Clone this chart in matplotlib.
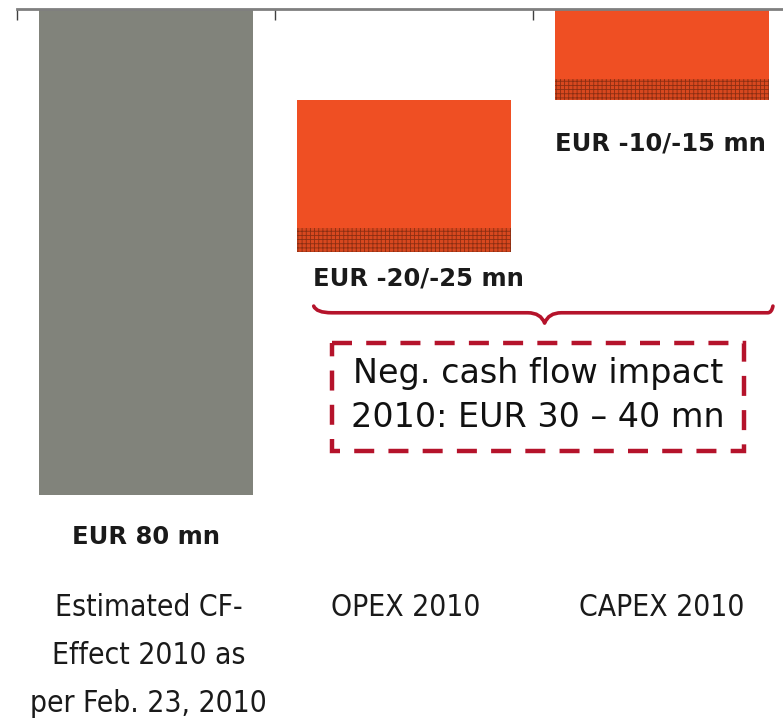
import matplotlib
matplotlib.use('Agg')
import matplotlib.pyplot as plt
from matplotlib.path import Path
from matplotlib.patches import PathPatch, Rectangle

# Datos del gráfico (escala invertida: las barras cuelgan del eje superior)
categorias = ['Estimated CF-\nEffect 2010 as\nper Feb. 23, 2010', 'OPEX 2010', 'CAPEX 2010']
base = [0, 15, 0]
parte_solida = [80, 21, 11.5]
parte_rango = [0, 4, 3.5]
etiquetas_valor = ['EUR 80 mn', 'EUR -20/-25 mn', 'EUR -10/-15 mn']
texto_caja = 'Neg. cash flow impact\n2010: EUR 30 – 40 mn'

gris = '#81837B'
naranja = '#EF4F23'
naranja_osc = '#D8481F'
rojo = '#B5132B'

plt.rcParams['hatch.linewidth'] = 0.6

fig = plt.figure(figsize=(7.83, 7.18), dpi=100)
ax = fig.add_axes([17 / 783, 0, 774 / 783, 709 / 718])

x = list(range(len(categorias)))
colores = [gris, naranja, naranja]
ax.bar(x, parte_solida, bottom=base, width=0.83, color=colores, linewidth=0)
inicio_rango = [b + s for b, s in zip(base, parte_solida)]
ax.bar(x, parte_rango, bottom=inicio_rango, width=0.83, color=naranja_osc,
       hatch='++++', edgecolor='#8B2E12', linewidth=0)

ax.set_xlim(-0.5, 2.5)
ax.set_ylim(116.7, 0)

# Eje superior con marcas en los límites de categoría
for lado in ['left', 'right', 'bottom']:
    ax.spines[lado].set_visible(False)
ax.spines['top'].set_color('#7F7F7F')
ax.spines['top'].set_linewidth(2)
ax.xaxis.tick_top()
ax.set_xticks([-0.5, 0.5, 1.5])
ax.tick_params(axis='x', direction='in', length=8, width=1, color='#404040',
               labeltop=False)
ax.set_yticks([])

# Etiquetas de valores
pos_etiquetas = [(0, 86.9), (1.056, 44.3), (1.994, 22.1)]
for (xe, ye), txt in zip(pos_etiquetas, etiquetas_valor):
    ax.text(xe, ye, txt, ha='center', va='center', fontsize=17.5,
            fontweight='bold', color='#1A1A1A')

# Etiquetas de categorías
pos_cat = [0.01, 1.006, 2.0]
for xc, txt in zip(pos_cat, categorias):
    ax.text(xc, 96.1, txt, ha='center', va='top', fontsize=21.5,
            fontstretch='condensed', linespacing=1.82, color='#1A1A1A')

# Llave roja bajo OPEX y CAPEX
yl, ye_, yp = 50.0, 48.9, 51.7
verts = [(0.65, ye_), (0.66, yl), (0.72, yl), (0.78, yl),
         (1.48, yl), (1.53, yl), (1.545, yp),
         (1.56, yl), (1.61, yl),
         (2.35, yl), (2.41, yl), (2.425, yl), (2.43, ye_)]
codes = [Path.MOVETO, Path.CURVE3, Path.CURVE3, Path.LINETO,
         Path.LINETO, Path.CURVE3, Path.CURVE3,
         Path.CURVE3, Path.CURVE3,
         Path.LINETO, Path.LINETO, Path.CURVE3, Path.CURVE3]
ax.add_patch(PathPatch(Path(verts, codes), fill=False, edgecolor=rojo,
                       linewidth=2.6, capstyle='round', joinstyle='round'))

# Caja discontinua con el impacto total
ax.add_patch(Rectangle((0.719, 55.0), 2.316 - 0.719, 72.8 - 55.0, fill=False,
                       edgecolor=rojo, linewidth=3.2, linestyle=(0, (4.5, 3.2))))
ax.text(1.518, 63.6, texto_caja, ha='center', va='center', fontsize=24,
        linespacing=1.43, color='#111111')

plt.savefig('out.png', dpi=100)
